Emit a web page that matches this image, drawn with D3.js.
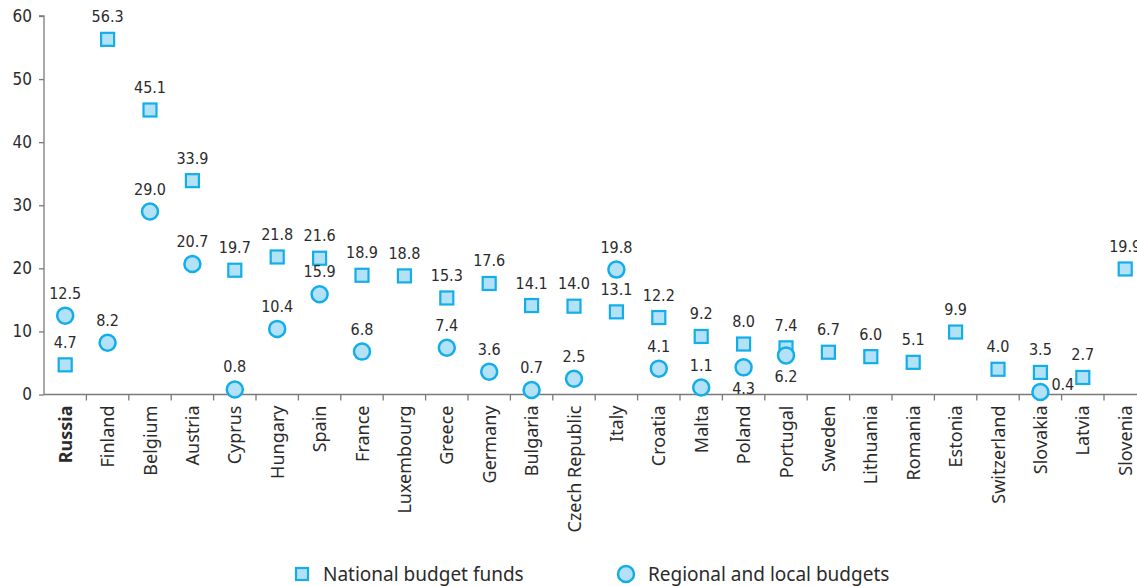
<!DOCTYPE html>
<html>
<head>
<meta charset="utf-8">
<script src="https://cdn.jsdelivr.net/npm/d3@7/dist/d3.min.js"></script>
<style>
  html, body { margin: 0; padding: 0; background: #fff; }
  svg { display: block; }
</style>
</head>
<body>
<svg id="chart" width="1137" height="586"></svg>
<script>
// Countries along the x axis
const countries = ["Russia", "Finland", "Belgium", "Austria", "Cyprus", "Hungary", "Spain", "France",
  "Luxembourg", "Greece", "Germany", "Bulgaria", "Czech Republic", "Italy", "Croatia", "Malta",
  "Poland", "Portugal", "Sweden", "Lithuania", "Romania", "Estonia", "Switzerland", "Slovakia",
  "Latvia", "Slovenia"];

// National budget funds
const nationalValues = [4.7, 56.3, 45.1, 33.9, 19.7, 21.8, 21.6, 18.9, 18.8, 15.3, 17.6, 14.1, 14.0,
  13.1, 12.2, 9.2, 8.0, 7.4, 6.7, 6.0, 5.1, 9.9, 4.0, 3.5, 2.7, 19.9];

// Regional and local budgets (null where not reported)
const regionalValues = [12.5, 8.2, 29.0, 20.7, 0.8, 10.4, 15.9, 6.8, null, 7.4, 3.6, 0.7, 2.5,
  19.8, 4.1, 1.1, 4.3, 6.2, null, null, null, null, null, 0.4, null, null];

// Where a regional label sits relative to its circle: above (default), below or right
const regionalLabelPlacement = { "Poland": "below", "Portugal": "below", "Slovakia": "right" };

const yTicks = [0, 10, 20, 30, 40, 50, 60];
const seriesNames = ["National budget funds", "Regional and local budgets"];

const STROKE = "#13aee9";
const FILL = "#b2e1f8";
const TEXT = "#2b2b2b";
const AXIS = "#7a7a7a";
const numFont = "'Liberation Sans Narrow', 'DejaVu Sans Condensed', 'Liberation Sans', sans-serif";
const labelFont = "'Noto Sans', 'Open Sans', sans-serif";

const svg = d3.select("#chart");
const margin = { left: 44, top: 16, bottom: 394.5 };
const bandW = 42.4;

const x = d3.scaleBand()
  .domain(countries)
  .range([margin.left, margin.left + bandW * countries.length])
  .paddingInner(0).paddingOuter(0);

const y = d3.scaleLinear().domain([0, 60]).range([margin.bottom, margin.top]);

// Y axis
const yAxis = svg.append("g")
  .attr("transform", `translate(${margin.left},0)`)
  .call(d3.axisLeft(y).tickValues(yTicks).tickSize(5).tickPadding(7));
yAxis.select(".domain").attr("stroke", AXIS).attr("stroke-width", 1.3)
  .attr("d", `M-5,${y(60)}H0V${y(0)}`);
yAxis.selectAll(".tick line").attr("stroke", AXIS).attr("stroke-width", 1.3);
yAxis.selectAll(".tick text")
  .attr("fill", TEXT).style("font-family", numFont).style("font-size", "17px");

// X axis: ticks between categories
const xAxisG = svg.append("g").attr("transform", `translate(0,${margin.bottom})`);
xAxisG.append("line")
  .attr("x1", margin.left).attr("x2", x.range()[1])
  .attr("y1", 0).attr("y2", 0)
  .attr("stroke", AXIS).attr("stroke-width", 1.3);
xAxisG.selectAll("line.sep")
  .data(d3.range(1, countries.length + 1))
  .join("line")
  .attr("class", "sep")
  .attr("x1", i => margin.left + i * x.bandwidth())
  .attr("x2", i => margin.left + i * x.bandwidth())
  .attr("y1", 0).attr("y2", 6)
  .attr("stroke", AXIS).attr("stroke-width", 1.3);

xAxisG.selectAll("text.country")
  .data(countries)
  .join("text")
  .attr("class", "country")
  .attr("transform", d => `translate(${x(d) + x.bandwidth() / 2 + 6.5},11) rotate(-90)`)
  .attr("text-anchor", "end")
  .attr("fill", TEXT)
  .style("font-family", labelFont)
  .style("font-size", "18px")
  .style("font-weight", d => d === "Russia" ? "bold" : "normal")
  .text(d => d);

const regional = countries.map((c, i) => ({ c, v: regionalValues[i] })).filter(d => d.v !== null);
const national = countries.map((c, i) => ({ c, v: nationalValues[i] }));

const cx = d => x(d.c) + x.bandwidth() / 2;

// National squares
svg.append("g").selectAll("rect")
  .data(national)
  .join("rect")
  .attr("x", d => cx(d) - 6.5)
  .attr("y", d => y(d.v) - 6.5)
  .attr("width", 13).attr("height", 13)
  .attr("fill", FILL).attr("stroke", STROKE).attr("stroke-width", 2.2);

// Regional circles
svg.append("g").selectAll("circle")
  .data(regional)
  .join("circle")
  .attr("cx", cx)
  .attr("cy", d => y(d.v))
  .attr("r", 8)
  .attr("fill", FILL).attr("stroke", STROKE).attr("stroke-width", 2.5);

// Value labels
const labels = svg.append("g")
  .style("font-family", numFont).style("font-size", "16px").attr("fill", TEXT);

labels.selectAll("text.nat")
  .data(national)
  .join("text")
  .attr("class", "nat")
  .attr("x", cx)
  .attr("y", d => y(d.v) - 17)
  .attr("text-anchor", "middle")
  .text(d => d.v.toFixed(1));

labels.selectAll("text.reg")
  .data(regional)
  .join("text")
  .attr("class", "reg")
  .attr("x", d => regionalLabelPlacement[d.c] === "right" ? cx(d) + 11 : cx(d))
  .attr("y", d => {
    const p = regionalLabelPlacement[d.c];
    if (p === "below") return y(d.v) + 27;
    if (p === "right") return y(d.v) - 2;
    return y(d.v) - 17;
  })
  .attr("text-anchor", d => regionalLabelPlacement[d.c] === "right" ? "start" : "middle")
  .text(d => d.v.toFixed(1));

// Legend
const legend = svg.append("g").attr("transform", "translate(0,574)")
  .style("font-family", labelFont).style("font-size", "19px").attr("fill", TEXT);
legend.append("rect").attr("x", 296).attr("y", -6).attr("width", 12).attr("height", 12)
  .attr("fill", FILL).attr("stroke", STROKE).attr("stroke-width", 2.2);
legend.append("text").attr("x", 323).attr("y", 7).text(seriesNames[0]);
legend.append("circle").attr("cx", 626).attr("cy", 0).attr("r", 8)
  .attr("fill", FILL).attr("stroke", STROKE).attr("stroke-width", 2.5);
legend.append("text").attr("x", 648).attr("y", 7).text(seriesNames[1]);
</script>
</body>
</html>
